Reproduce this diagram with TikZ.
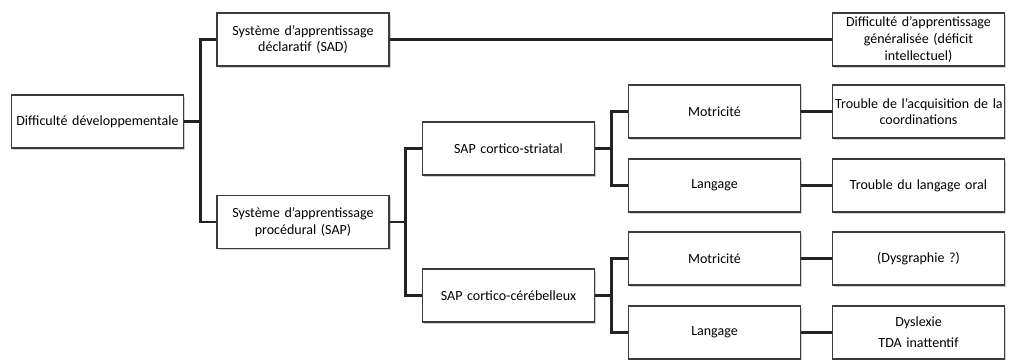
\documentclass[tikz,border=0pt]{standalone}
\usepackage{fontspec}
\setmainfont{Carlito}
\usepackage{tikz}
\usetikzlibrary{shadows}
\usepackage{xcolor}
\definecolor{boxline}{RGB}{60, 60, 60}
\definecolor{linkline}{RGB}{35, 35, 35}
\definecolor{shade}{RGB}{150, 150, 150}

\tikzset{
    treebox/.style={draw=boxline, line width=1.1pt, fill=white, align=center,
        text width=125pt, inner sep=2pt, minimum height=39.75pt,
        font=\fontsize{10.5}{12.5}\selectfont,
        drop shadow={shadow xshift=1.2pt, shadow yshift=-1.2pt, fill=shade, opacity=0.45}},
    link/.style={draw=linkline, line width=2pt}
}

\begin{document}
\begin{tikzpicture}[x=0.75pt, y=-0.75pt]
        \useasboundingbox (0,0) rectangle (1010,360);

        \node[treebox] (root) at (97.5, 121.5) {Difficulté développementale};

        \node[treebox] (sad) at (303, 39.5) {Système d’apprentissage\\déclaratif (SAD)};
        \node[treebox] (sap) at (303, 222) {Système d’apprentissage\\procédural (SAP)};

        \node[treebox] (striatal) at (508.5, 148.5) {SAP cortico-striatal};
        \node[treebox] (cereb) at (508.5, 295.5) {SAP cortico-cérébelleux};

        \node[treebox] (motA) at (714.5, 111.5) {Motricité};
        \node[treebox] (langA) at (714.5, 185.5) {Langage};
        \node[treebox] (motB) at (714.5, 258.5) {Motricité};
        \node[treebox] (langB) at (714.5, 332.5) {Langage};

        \node[treebox] (general) at (918.5, 39.5) {Difficulté d’apprentissage\\généralisée (déficit\\intellectuel)};
        \node[treebox] (coord) at (918.5, 111.5) {\mbox{Trouble de l’acquisition de la}\\coordinations};
        \node[treebox] (oral) at (918.5, 185.5) {Trouble du langage oral};
        \node[treebox] (dysgr) at (918.5, 258.5) {(Dysgraphie ?)};
        \node[treebox] (dyslex) at (918.5, 332.5) {Dyslexie\\[3pt]TDA inattentif};

        \draw[link] (root.east) -- +(16.5,0) |- (sad.west);
        \draw[link] (root.east) -- +(16.5,0) |- (sap.west);
        \draw[link] (sad.east) -- (general.west);

        \draw[link] (sap.east) -- +(16,0) |- (striatal.west);
        \draw[link] (sap.east) -- +(16,0) |- (cereb.west);

        \draw[link] (striatal.east) -- +(16,0) |- (motA.west);
        \draw[link] (striatal.east) -- +(16,0) |- (langA.west);
        \draw[link] (cereb.east) -- +(16,0) |- (motB.west);
        \draw[link] (cereb.east) -- +(16,0) |- (langB.west);

        \draw[link] (motA.east) -- (coord.west);
        \draw[link] (langA.east) -- (oral.west);
        \draw[link] (motB.east) -- (dysgr.west);
        \draw[link] (langB.east) -- (dyslex.west);
    \end{tikzpicture}
\end{document}
